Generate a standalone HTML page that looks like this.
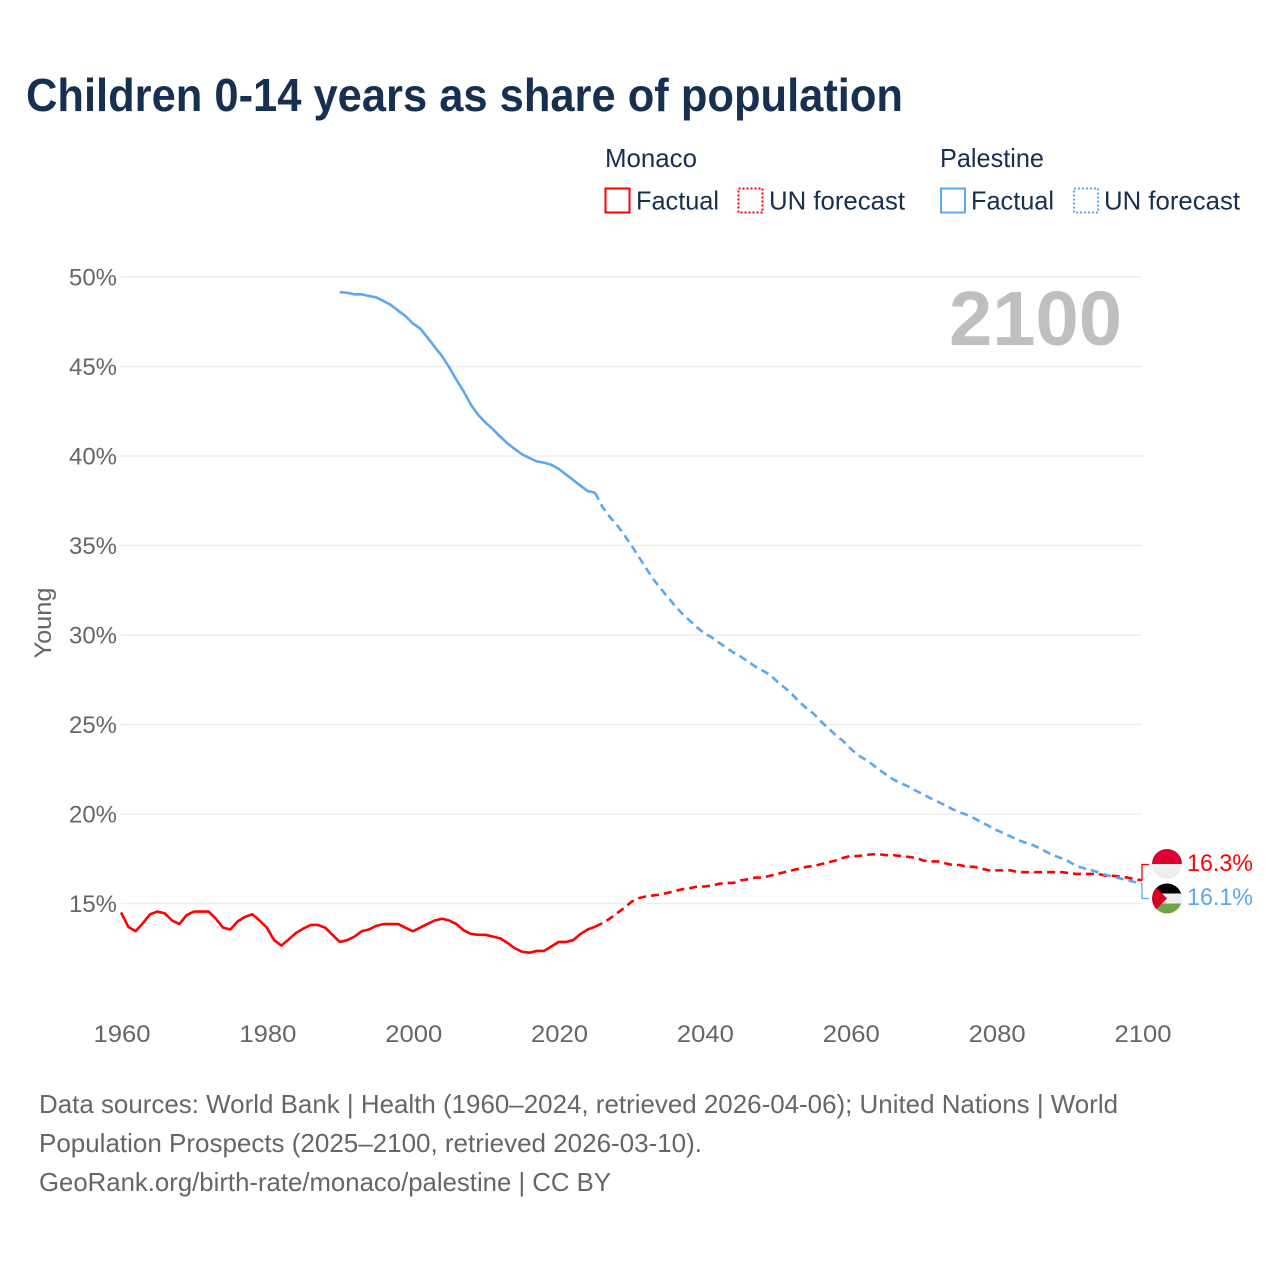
<!DOCTYPE html>
<html lang="en">
<head>
<meta charset="utf-8">
<title>Children 0-14 years as share of population</title>
<style>
html,body{margin:0;padding:0;background:#fff;}
svg{display:block;font-family:"Liberation Sans",sans-serif;}
</style>
</head>
<body>
<svg id="chart" xmlns="http://www.w3.org/2000/svg" width="1280" height="1280" viewBox="0 0 1280 1280">
  <rect width="1280" height="1280" fill="#ffffff"/>
  <text x="26" y="111" font-size="46" font-weight="bold" fill="#17304f" textLength="877" lengthAdjust="spacingAndGlyphs">Children 0-14 years as share of population</text>

  <g font-size="26" fill="#17304f">
    <text x="605" y="167" textLength="92" lengthAdjust="spacingAndGlyphs">Monaco</text>
    <text x="940" y="167" textLength="104" lengthAdjust="spacingAndGlyphs">Palestine</text>
    <rect x="605.5" y="188.5" width="24" height="24" fill="none" stroke="#ff0000" stroke-width="2"/>
    <text x="636" y="209.5" textLength="83" lengthAdjust="spacingAndGlyphs">Factual</text>
    <rect x="738.5" y="188.5" width="24" height="24" fill="none" stroke="#ff0000" stroke-width="2" stroke-dasharray="2 2"/>
    <text x="769" y="209.5" textLength="136" lengthAdjust="spacingAndGlyphs">UN forecast</text>
    <rect x="941" y="188.5" width="24" height="24" fill="none" stroke="#5ca8ee" stroke-width="2"/>
    <text x="971" y="209.5" textLength="83" lengthAdjust="spacingAndGlyphs">Factual</text>
    <rect x="1074" y="188.5" width="24" height="24" fill="none" stroke="#5ca8ee" stroke-width="2" stroke-dasharray="2 2"/>
    <text x="1104" y="209.5" textLength="136" lengthAdjust="spacingAndGlyphs">UN forecast</text>
  </g>

  <g id="grid"></g>
  <g id="yticks" font-size="24" fill="#666666"></g>
  <g id="xticks" font-size="24" fill="#666666"></g>
  <text transform="translate(51 623) rotate(-90)" text-anchor="middle" font-size="24" fill="#666666" textLength="71" lengthAdjust="spacingAndGlyphs">Young</text>

  <text x="949" y="345" font-size="77" font-weight="bold" fill="#bfbfbf" textLength="173" lengthAdjust="spacingAndGlyphs">2100</text>

  <g id="series"></g>
  <g id="connectors"></g>

  <defs>
    <clipPath id="flag-clip-monaco"><circle cx="1167" cy="864" r="15"/></clipPath>
    <clipPath id="flag-clip-palestine"><circle cx="1167" cy="898.5" r="15"/></clipPath>
  </defs>
  <g clip-path="url(#flag-clip-monaco)">
    <rect x="1152" y="849" width="30" height="15" fill="#dc0030"/>
    <rect x="1152" y="864" width="30" height="15" fill="#eeeeee"/>
  </g>
  <g clip-path="url(#flag-clip-palestine)">
    <rect x="1152" y="883" width="30" height="11" fill="#000000"/>
    <rect x="1152" y="893.5" width="30" height="10" fill="#eeeeee"/>
    <rect x="1152" y="903.5" width="30" height="11" fill="#6da544"/>
    <polygon points="1152,883.5 1167,898.5 1152,913.5" fill="#d80027"/>
  </g>
  <text id="label-monaco" x="1187" y="871" font-size="24" fill="#ff0000" textLength="66" lengthAdjust="spacingAndGlyphs"></text>
  <text id="label-palestine" x="1187" y="905" font-size="24" fill="#5ca8ee" textLength="66" lengthAdjust="spacingAndGlyphs"></text>

  <g font-size="26" fill="#666666">
    <text x="39" y="1113" textLength="1079" lengthAdjust="spacingAndGlyphs">Data sources: World Bank | Health (1960–2024, retrieved 2026-04-06); United Nations | World</text>
    <text x="39" y="1152" textLength="663" lengthAdjust="spacingAndGlyphs">Population Prospects (2025–2100, retrieved 2026-03-10).</text>
    <text x="39" y="1191" textLength="572" lengthAdjust="spacingAndGlyphs">GeoRank.org/birth-rate/monaco/palestine | CC BY</text>
  </g>
</svg>

<script>
const yTickValues = [15, 20, 25, 30, 35, 40, 45, 50];
const xTickYears = [1960, 1980, 2000, 2020, 2040, 2060, 2080, 2100];

const monacoFactualStart = 1960;
const monacoFactual = [
  14.5, 13.7, 13.45, 13.9, 14.4, 14.55, 14.45, 14.05, 13.85, 14.35,
  14.55, 14.55, 14.55, 14.15, 13.65, 13.55, 14.0, 14.25, 14.4, 14.05,
  13.65, 12.95, 12.65, 13.0, 13.35, 13.6, 13.8, 13.8, 13.65, 13.25,
  12.85, 12.95, 13.15, 13.45, 13.55, 13.75, 13.85, 13.85, 13.85, 13.65,
  13.45, 13.65, 13.85, 14.05, 14.15, 14.05, 13.85, 13.5, 13.3, 13.25,
  13.25, 13.15, 13.05, 12.8, 12.5, 12.3, 12.25, 12.35, 12.35, 12.6,
  12.85, 12.85, 12.95, 13.3, 13.55, 13.7
];
const monacoForecastStart = 2025;
const monacoForecast = [
  13.7, 13.9, 14.15, 14.45, 14.75,
  15.1, 15.3, 15.4, 15.45, 15.5, 15.6, 15.7, 15.8, 15.85, 15.95,
  15.95, 16.0, 16.1, 16.15, 16.15, 16.3, 16.35, 16.45, 16.45, 16.55,
  16.65, 16.75, 16.85, 16.95, 17.05, 17.1, 17.2, 17.3, 17.4, 17.55,
  17.65, 17.65, 17.7, 17.75, 17.75, 17.7, 17.7, 17.65, 17.6, 17.55,
  17.4, 17.35, 17.35, 17.25, 17.15, 17.15, 17.05, 17.05, 16.95, 16.85,
  16.85, 16.85, 16.85, 16.75, 16.75, 16.75, 16.75, 16.75, 16.75, 16.75,
  16.7, 16.65, 16.65, 16.65, 16.65, 16.55, 16.55, 16.5, 16.45, 16.35,
  16.3
];

const palestineFactualStart = 1990;
const palestineFactual = [
  49.15, 49.12, 49.03, 49.03, 48.94, 48.86, 48.66, 48.44, 48.12, 47.82,
  47.41, 47.13, 46.63, 46.1, 45.59, 44.96, 44.25, 43.6, 42.85, 42.29,
  41.86, 41.49, 41.08, 40.71, 40.39, 40.09, 39.89, 39.7, 39.63, 39.51,
  39.29, 38.97, 38.66, 38.34, 38.04, 37.95
];
const palestineForecastStart = 2025;
const palestineForecast = [
  37.95, 37.17, 36.61, 36.15, 35.59,
  35.0, 34.37, 33.73, 33.11, 32.6, 32.1, 31.62, 31.17, 30.8, 30.42,
  30.09, 29.87, 29.57, 29.29, 29.01, 28.79, 28.51, 28.23, 28.01, 27.77,
  27.39, 27.06, 26.7, 26.27, 25.9, 25.59, 25.16, 24.79, 24.41, 24.08,
  23.67, 23.3, 23.06, 22.78, 22.46, 22.18, 21.9, 21.71, 21.53, 21.3,
  21.1, 20.88, 20.69, 20.49, 20.27, 20.1, 19.95, 19.76, 19.54, 19.33,
  19.11, 18.93, 18.74, 18.55, 18.4, 18.27, 18.08, 17.86, 17.67, 17.52,
  17.34, 17.1, 16.97, 16.87, 16.74, 16.6, 16.5, 16.4, 16.3, 16.2,
  16.1
];

const SVG_NS = 'http://www.w3.org/2000/svg';
const RED = '#ff0000';
const BLUE = '#5ca8ee';

function xScale(year) {
  return 121 + (year - 1960) * (1021 / 140);
}
function yScale(value) {
  return 277 + (50 - value) * (626.5 / 35);
}
function linePath(start, values) {
  return values.map(function (v, i) {
    return (i ? 'L' : 'M') + xScale(start + i).toFixed(2) + ' ' + yScale(v).toFixed(2);
  }).join(' ');
}

const gridGroup = document.getElementById('grid');
const yTickGroup = document.getElementById('yticks');
const xTickGroup = document.getElementById('xticks');
const seriesGroup = document.getElementById('series');
const connectorGroup = document.getElementById('connectors');

yTickValues.forEach(function (v) {
  const line = document.createElementNS(SVG_NS, 'line');
  
  
  line.setAttribute('x1', 121);
  line.setAttribute('x2', 1142);
  line.setAttribute('y1', yScale(v));
  line.setAttribute('y2', yScale(v));
  line.setAttribute('stroke', '#eeeeee');
  line.setAttribute('stroke-width', '1.5');
  gridGroup.appendChild(line);

  const label = document.createElementNS(SVG_NS, 'text');
  
  
  label.setAttribute('x', 69);
  label.setAttribute('y', yScale(v) + 8.7);
  label.setAttribute('textLength', '48');
  label.setAttribute('lengthAdjust', 'spacingAndGlyphs');
  label.textContent = v + '%';
  yTickGroup.appendChild(label);
});

xTickYears.forEach(function (year) {
  const label = document.createElementNS(SVG_NS, 'text');
  
  
  label.setAttribute('x', xScale(year) - 27.5);
  label.setAttribute('y', 1042);
  label.setAttribute('textLength', '57');
  label.setAttribute('lengthAdjust', 'spacingAndGlyphs');
  label.textContent = year;
  xTickGroup.appendChild(label);
});

function addLine(name, start, values, colour, dashed) {
  const path = document.createElementNS(SVG_NS, 'path');
  
  
  path.setAttribute('d', linePath(start, values));
  path.setAttribute('fill', 'none');
  path.setAttribute('stroke', colour);
  path.setAttribute('stroke-width', '2.6');
  path.setAttribute('stroke-linejoin', 'round');
  if (dashed) {
    path.setAttribute('stroke-dasharray', '8 5');
  }
  seriesGroup.appendChild(path);
}
addLine('line-monaco-factual', monacoFactualStart, monacoFactual, RED, false);
addLine('line-monaco-forecast', monacoForecastStart, monacoForecast, RED, true);
addLine('line-palestine-factual', palestineFactualStart, palestineFactual, BLUE, false);
addLine('line-palestine-forecast', palestineForecastStart, palestineForecast, BLUE, true);

function addConnector(name, value, labelY, colour) {
  const path = document.createElementNS(SVG_NS, 'path');
  
  
  path.setAttribute('d', 'M1142 ' + yScale(value).toFixed(2) + ' V' + labelY + ' H1149');
  path.setAttribute('fill', 'none');
  path.setAttribute('stroke', colour);
  path.setAttribute('stroke-width', '1.3');
  connectorGroup.appendChild(path);
}
const monacoLast = monacoForecast[monacoForecast.length - 1];
const palestineLast = palestineForecast[palestineForecast.length - 1];
addConnector('connector-monaco', monacoLast, 864.5, RED);
addConnector('connector-palestine', palestineLast, 898.5, BLUE);

document.getElementById('label-monaco').textContent = monacoLast.toFixed(1) + '%';
document.getElementById('label-palestine').textContent = palestineLast.toFixed(1) + '%';
</script>
</body>
</html>
